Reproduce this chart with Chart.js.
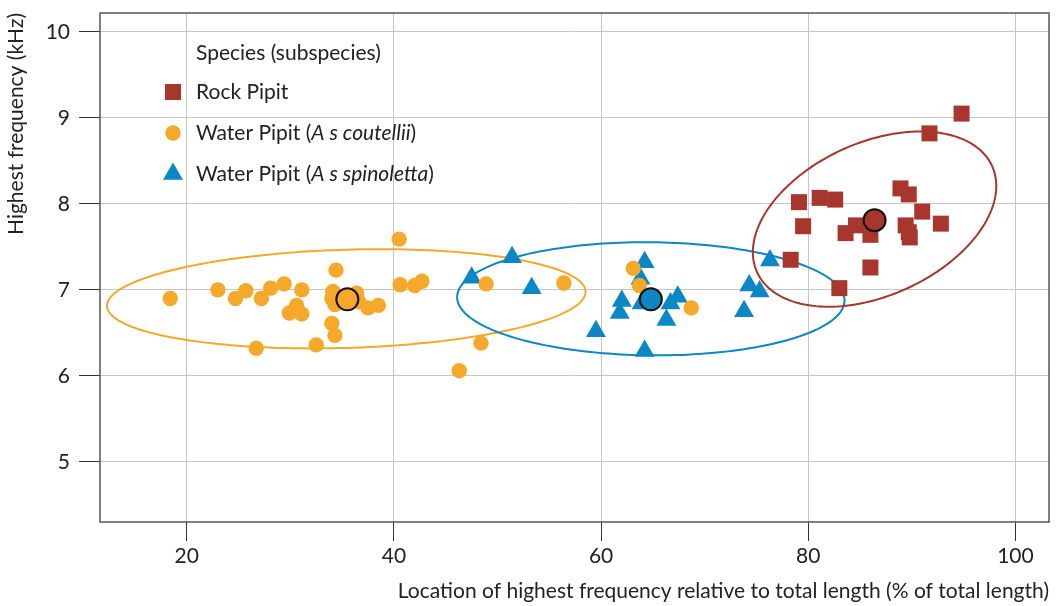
<!DOCTYPE html>
<html><head><meta charset="utf-8">
<script src="https://cdn.jsdelivr.net/npm/chart.js@4"></script>
<style>html,body{margin:0;padding:0;background:#fff}</style>
</head><body>
<canvas id="c" width="1062" height="606"></canvas>
<script>
// ---- data ----
const rockX=[94.8,91.7,88.9,89.7,79.1,81.1,82.6,91.0,79.5,84.6,83.6,86.0,89.4,89.7,89.8,92.8,78.3,86.0,83.0];
const rockY=[9.05,8.82,8.18,8.11,8.02,8.07,8.05,7.91,7.74,7.75,7.66,7.64,7.75,7.67,7.61,7.77,7.35,7.26,7.02];
const coutX=[18.4,23.0,24.7,25.7,27.2,28.1,29.4,31.1,30.6,29.9,31.1,26.7,32.5,40.5,34.4,34.1,34.0,34.3,36.4,36.6,37.5,38.5,34.0,34.3,40.6,42.0,42.7,46.3,48.9,56.4,48.4,63.1,63.7,68.7];
const coutY=[6.90,7.00,6.90,6.99,6.90,7.02,7.07,7.00,6.82,6.73,6.72,6.32,6.36,7.59,7.23,6.98,6.90,6.83,6.96,6.86,6.79,6.82,6.61,6.47,7.06,7.05,7.10,6.06,7.07,7.08,6.38,7.25,7.05,6.79];
const spinX=[51.4,47.5,53.3,59.5,64.2,63.8,62.0,61.8,63.9,67.4,66.7,66.3,64.2,74.3,75.3,73.8,76.3];
const spinY=[7.38,7.14,7.02,6.52,7.32,7.13,6.87,6.73,6.84,6.92,6.84,6.65,6.29,7.05,6.98,6.75,7.34];
const meanX=[35.5,64.8,86.4];
const meanY=[6.89,6.89,7.81];
// ellipse parameters (centre, half-extent in x and y, correlation), order: coutellii, spinoletta, rock
const ellCx=[35.4,64.8,86.4];
const ellCy=[6.896,6.896,7.823];
const ellRx=[23.1,18.7,11.75];
const ellRy=[0.577,0.658,1.019];
const ellRho=[0.14,-0.03,0.378];
const xTicks=[20,40,60,80,100];
const yTicks=[5,6,7,8,9,10];
const legendTitle="Species (subspecies)";
const legendLabels=[
  [["Rock Pipit",false]],
  [["Water Pipit (",false],["A s coutellii",true],[")",false]],
  [["Water Pipit (",false],["A s spinoletta",true],[")",false]]
];
const RED='#a8362d', ORANGE='#f5a82a', BLUE='#0b87c6';
const colors=[ORANGE,BLUE,RED];
const FONT='Lato';
const FS=21;

const pts=(xs,ys)=>xs.map((x,i)=>({x:x,y:ys[i]}));

const ellipsePlugin={
  id:'ellipses',
  beforeDatasetsDraw(chart){
    const {ctx,scales:{x,y}}=chart;
    ctx.save();
    ctx.beginPath();
    ctx.rect(chart.chartArea.left,chart.chartArea.top,chart.chartArea.right-chart.chartArea.left,chart.chartArea.bottom-chart.chartArea.top);
    ctx.clip();
    for(let k=0;k<ellCx.length;k++){
      ctx.beginPath();
      const s=Math.sqrt(1-ellRho[k]*ellRho[k]);
      for(let i=0;i<=200;i++){
        const t=i/200*2*Math.PI;
        const vx=ellCx[k]+ellRx[k]*Math.cos(t);
        const vy=ellCy[k]+ellRy[k]*(ellRho[k]*Math.cos(t)+s*Math.sin(t));
        const px=x.getPixelForValue(vx), py=y.getPixelForValue(vy);
        if(i===0)ctx.moveTo(px,py);else ctx.lineTo(px,py);
      }
      ctx.closePath();
      ctx.strokeStyle=colors[k];
      ctx.lineWidth=2;
      ctx.stroke();
    }
    ctx.restore();
  }
};

function drawMarker(ctx,style,cx,cy,color){
  ctx.fillStyle=color;
  ctx.beginPath();
  if(style==='rect'){ctx.rect(cx-8,cy-8,16,16);}
  else if(style==='circle'){ctx.arc(cx,cy,7.7,0,2*Math.PI);}
  else {const r=11.5;ctx.moveTo(cx,cy-r);ctx.lineTo(cx+r*Math.sin(2*Math.PI/3),cy-r*Math.cos(2*Math.PI/3));ctx.lineTo(cx+r*Math.sin(4*Math.PI/3),cy-r*Math.cos(4*Math.PI/3));ctx.closePath();}
  ctx.fill();
}

const framePlugin={
  id:'frame',
  afterDraw(chart){
    const {ctx,chartArea:a}=chart;
    ctx.save();
    ctx.strokeStyle='#555';
    ctx.lineWidth=1.5;
    ctx.strokeRect(a.left,a.top,a.right-a.left,a.bottom-a.top);
    // legend
    const lx=173, tx=196;
    const rows=[92,133,174];
    ctx.textBaseline='middle';
    ctx.fillStyle='#222';
    ctx.font=FS+'px '+FONT;
    ctx.fillText(legendTitle,tx,53);
    const styles=['rect','circle','triangle'];
    const lc=[RED,ORANGE,BLUE];
    for(let i=0;i<3;i++){
      drawMarker(ctx,styles[i],lx,rows[i],lc[i]);
      let xx=tx;
      ctx.fillStyle='#222';
      for(const [txt,it] of legendLabels[i]){
        ctx.font=(it?'italic ':'')+FS+'px '+FONT;
        ctx.fillText(txt,xx,rows[i]);
        xx+=ctx.measureText(txt).width;
      }
    }
    ctx.restore();
  }
};

new Chart(document.getElementById('c'),{
  type:'scatter',
  data:{datasets:[
    {label:'Means',data:pts(meanX,meanY),pointStyle:'circle',pointRadius:11,pointHoverRadius:11,backgroundColor:colors,borderColor:'#111',pointBorderWidth:2,borderWidth:2},
    {label:'Water Pipit (A s coutellii)',data:pts(coutX,coutY),pointStyle:'circle',pointRadius:7.7,pointHoverRadius:7.7,backgroundColor:ORANGE,borderWidth:0,pointBorderWidth:0},
    {label:'Water Pipit (A s spinoletta)',data:pts(spinX,spinY),pointStyle:'triangle',pointRadius:11.5,pointHoverRadius:11.5,backgroundColor:BLUE,borderWidth:0,pointBorderWidth:0},
    {label:'Rock Pipit',data:pts(rockX,rockY),pointStyle:'rect',pointRadius:11.3,pointHoverRadius:11.3,backgroundColor:RED,borderWidth:0,pointBorderWidth:0}
  ]},
  options:{
    responsive:false,
    animation:false,
    events:[],
    layout:{padding:{left:0,right:10,top:9,bottom:0}},
    plugins:{legend:{display:false},tooltip:{enabled:false}},
    scales:{
      x:{type:'linear',min:11.62,max:103.24,
        afterBuildTicks:s=>{s.ticks=xTicks.map(v=>({value:v}));},
        afterFit:s=>{s.height=84;s.paddingLeft=0;s.paddingRight=0;},
        grid:{color:'#c6c6c6',lineWidth:1,tickLength:19,tickColor:'#333',tickWidth:1},
        border:{display:false},
        ticks:{padding:3,color:'#222',font:{family:FONT,size:FS},maxRotation:0},
        title:{display:true,text:'Location of highest frequency relative to total length (% of total length)',align:'end',color:'#222',font:{family:FONT,size:FS},padding:{top:2,bottom:2}}
      },
      y:{type:'linear',min:4.3,max:10.22,
        afterBuildTicks:s=>{s.ticks=yTicks.map(v=>({value:v}));},
        afterFit:s=>{s.width=100;s.paddingTop=0;s.paddingBottom=0;},
        grid:{color:'#c6c6c6',lineWidth:1,tickLength:21,tickColor:'#333',tickWidth:1},
        border:{display:false},
        ticks:{padding:9,color:'#222',font:{family:FONT,size:FS,lineHeight:0.85}},
        title:{display:true,text:'Highest frequency (kHz)',align:'end',color:'#222',font:{family:FONT,size:FS},padding:{top:4,bottom:4}}
      }
    }
  },
  plugins:[ellipsePlugin,framePlugin]
});
</script>
</body></html>
